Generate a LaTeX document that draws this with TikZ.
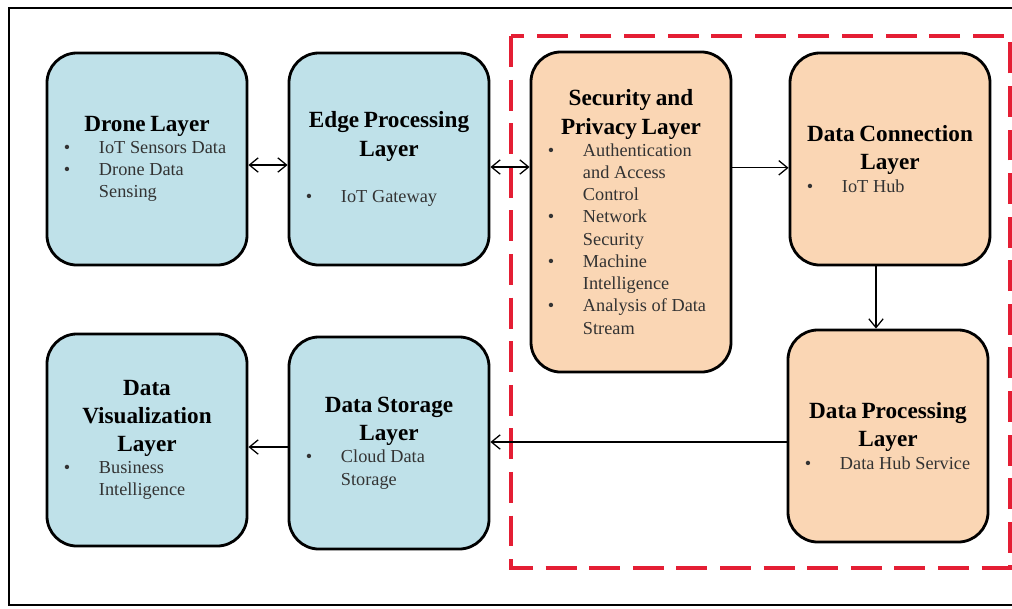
\documentclass[tikz,border=0pt]{standalone}
\usepackage{fontspec}
\setmainfont{Liberation Serif}
\usetikzlibrary{arrows.meta}

\definecolor{layerblue}{RGB}{191,225,233}
\definecolor{layerpeach}{RGB}{250,214,180}
\definecolor{zonered}{RGB}{228,30,52}

% title and bullet lines inside a layer box
\newcommand{\ttl}[1]{{\centering\fontsize{16.5}{20}\selectfont\bfseries #1\par}}
\newcommand{\bul}[1]{{\raggedright\fontsize{13}{15.8}\selectfont\color{black!80}\leftskip=1.3cm\noindent\llap{\makebox[0.875cm][l]{\textbullet}}#1\par}}

\begin{document}
\begin{tikzpicture}[
    x=0.025cm, y=-0.025cm,
    layer/.style={draw=black, line width=2pt, rounded corners=0.75cm, minimum height=5.3cm, text width=5cm, inner sep=0pt},
    edgeside/.style={layer, fill=layerblue},
    cloudside/.style={layer, fill=layerpeach},
    link/.style={line width=0.9pt, -{Straight Barb[length=0.22cm, width=0.36cm]}},
    twoway/.style={line width=0.9pt, {Straight Barb[length=0.22cm, width=0.36cm]}-{Straight Barb[length=0.22cm, width=0.36cm]}},
]
\useasboundingbox (0,0) rectangle (1012,608);

% Frame
\draw[line width=2pt] (1012,8) -- (9,8) -- (9,605) -- (1012,605);

% Secured zone
\draw[zonered, line width=2.2pt, dash pattern=on 22pt off 9pt] (511,36) rectangle (1010,568);

% Top row
\node[edgeside] (drone) at (147,159) {%
    \ttl{Drone Layer}
    \bul{IoT Sensors Data}
    \bul{Drone Data\\Sensing}};
\node[edgeside] (edge) at (389,159) {%
    \ttl{Edge Processing\\Layer}
    \vspace{0.6cm}
    \bul{IoT Gateway}};
\node[cloudside, minimum height=8cm] (secure) at (631,212) {%
    \ttl{Security and\\Privacy Layer}
    \bul{Authentication\\and Access\\Control}
    \bul{Network\\Security}
    \bul{Machine\\Intelligence}
    \bul{Analysis of Data\\Stream}};
\node[cloudside] (connect) at (890,159) {%
    \ttl{Data Connection\\Layer}
    \bul{IoT Hub}};

% Bottom row
\node[cloudside] (process) at (888,436) {%
    \ttl{Data Processing\\Layer}
    \bul{Data Hub Service}};
\node[edgeside] (storage) at (389,443) {%
    \ttl{Data Storage\\Layer}
    \bul{Cloud Data\\Storage}};
\node[edgeside] (visual) at (147,440) {%
    \ttl{Data\\Visualization\\Layer}
    \bul{Business\\Intelligence}};

% Flow
\draw[twoway] ([yshift=-0.15cm]drone.east) -- ([yshift=-0.15cm]edge.west);
\draw[twoway] ([yshift=-0.2cm]edge.east) -- ([yshift=-0.2cm]edge.east -| secure.west);
\draw[link] ([yshift=-0.22cm]connect.west -| secure.east) -- ([yshift=-0.22cm]connect.west);
\draw[link] ([xshift=-0.35cm]connect.south) -- ([xshift=-0.35cm]connect.south |- process.north);
\draw[link] ([yshift=-0.15cm]process.west) -- ([yshift=-0.15cm]process.west -| storage.east);
\draw[link] ([yshift=-0.1cm]storage.west) -- ([yshift=-0.1cm]storage.west -| visual.east);

\end{tikzpicture}
\end{document}
